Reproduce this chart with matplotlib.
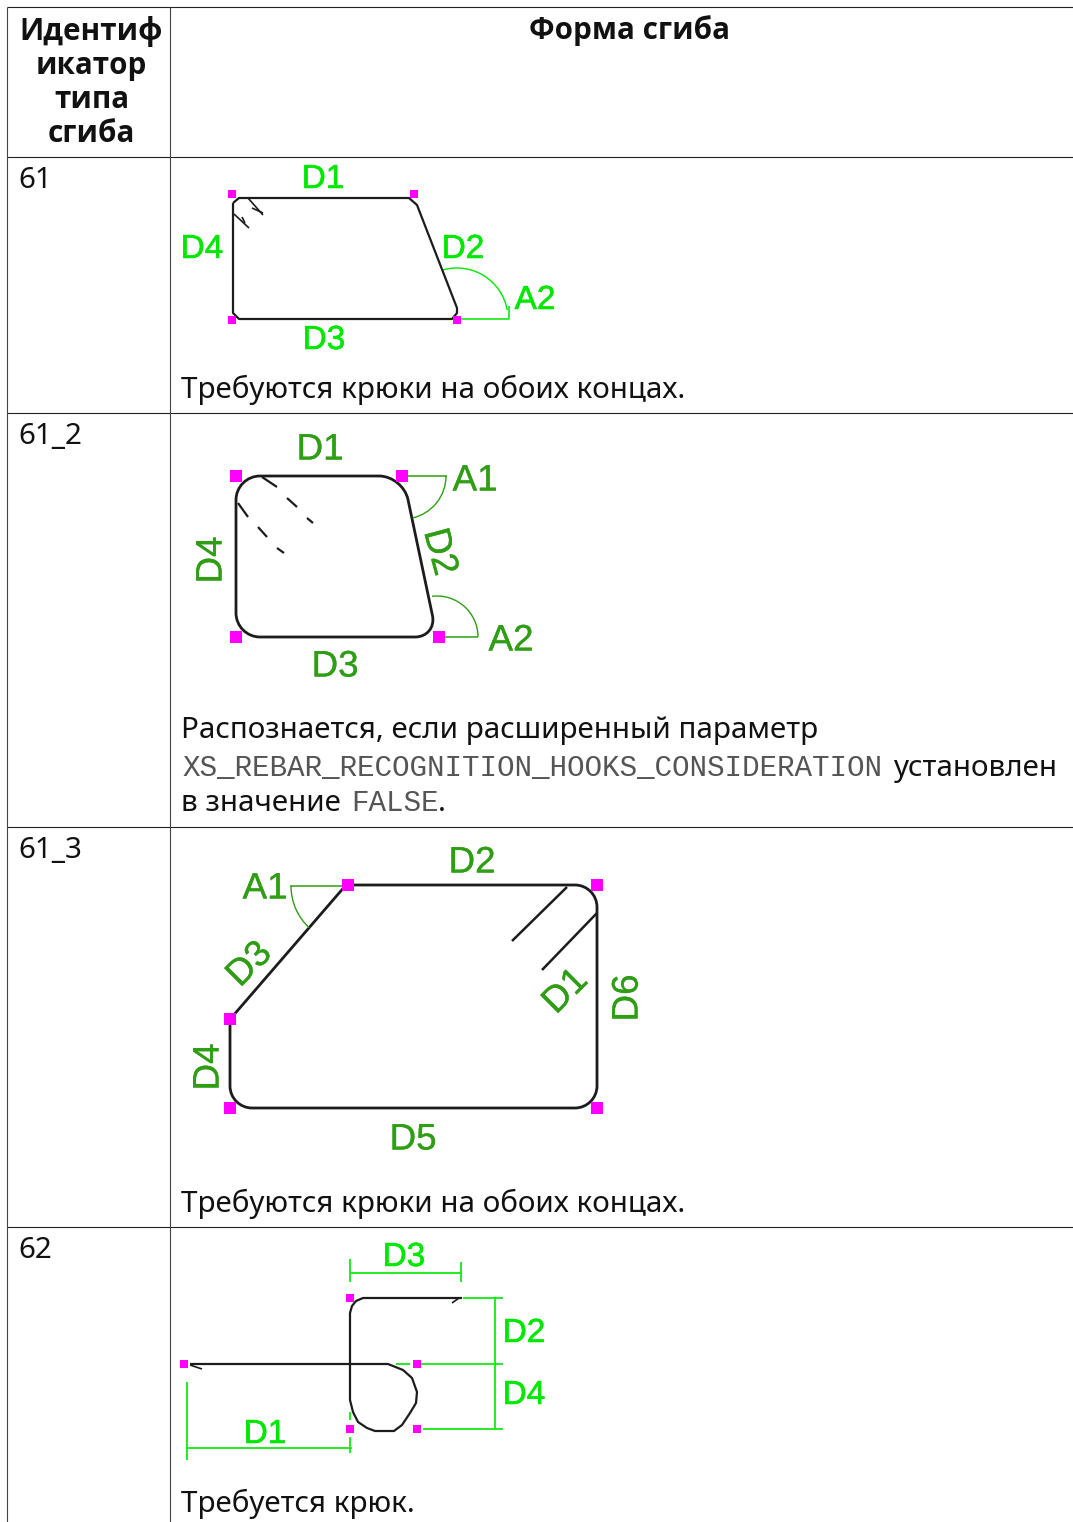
# rebar bend shape table, drawn in image pixels
import matplotlib
matplotlib.use("Agg")
import matplotlib.pyplot as plt
import matplotlib.patheffects as pe
from matplotlib.patches import Arc, PathPatch
from matplotlib.path import Path

W = 1073
H = 1522

# table grid
grid_x = [7, 170]
grid_y = [7, 157, 413, 827, 1227]

# text cells
header_left = ["Идентиф", "икатор", "типа", "сгиба"]
header_left_y = [40, 74, 108, 142]
header_right = "Форма сгиба"
row_ids = ["61", "61_2", "61_3", "62"]
row_id_y = [188, 444, 858, 1258]
notes = ["Требуются крюки на обоих концах.", "Распознается, если расширенный параметр",
         "Требуются крюки на обоих концах.", "Требуется крюк."]
notes_x = [181, 181, 181, 181]
notes_y = [398, 738, 1212, 1512]

# shape 61
s61_line = [(233, 203), (239, 198), (409, 198), (417, 205), (457, 308), (457, 313),
            (452, 319), (239, 319), (233, 313), (233, 203)]
s61_hooks = [[(248, 198), (263, 215)], [(252, 208), (263, 213)],
             [(234, 214), (249, 228)], [(242, 217), (245, 223)]]
s61_green = [[(457, 319), (509, 319), (509, 306)]]
s61_arcs = [(457, 319, 51, -107, -10)]
s61_points = [(232, 194), (414, 194), (232, 320), (457, 320)]
s61_labels = [("D1", 323, 176, 0), ("D2", 463, 246, 0), ("D3", 324, 337, 0),
              ("D4", 202, 246, 0), ("A2", 535, 297, 0)]

# shape 61_2
s612_corners = [(236, 476), (403, 476), (437, 637), (236, 637)]
s612_radius = [24, 24, 22, 24]
s612_hooks = [[(262, 477), (277, 487)], [(287, 498), (297, 507)], [(307, 518), (313, 523)],
              [(238, 503), (248, 517)], [(258, 527), (267, 537)], [(277, 548), (284, 553)]]
s612_green = [[(403, 476), (447, 476)], [(439, 637), (478, 637)]]
s612_arcs = [(403, 476, 43, 0, 77), (437, 637, 41, -97, 0)]
s612_points = [(236, 476), (402, 476), (236, 637), (439, 637)]
s612_labels = [("D1", 320, 446, 0), ("D2", 443, 551, -75), ("D3", 335, 663, 0),
               ("D4", 208, 560, 90), ("A1", 475, 477, 0), ("A2", 511, 637, 0)]

# shape 61_3
s613_corners = [(346, 885), (597, 885), (597, 1108), (230, 1108), (230, 1022), (232, 1017)]
s613_radius = [0, 22, 22, 22, 0, 0]
s613_hooks = [[(567, 887), (512, 941)], [(597, 913), (542, 970)]]
s613_green = [[(290, 886), (348, 886)]]
s613_arcs = [(348, 886, 57, 133, 180)]
s613_points = [(348, 885), (597, 885), (230, 1019), (230, 1108), (597, 1108)]
s613_labels = [("A1", 265, 885, 0), ("D2", 472, 859, 0), ("D3", 247, 962, 45),
               ("D1", 563, 989, 45), ("D6", 624, 998, 90), ("D4", 205, 1067, 90),
               ("D5", 413, 1136, 0)]

# shape 62
s62_line = [(462, 1298), (363, 1298), (356, 1301), (352, 1306), (350, 1313), (350, 1400),
            (353, 1412), (358, 1422), (367, 1428), (375, 1431), (394, 1431), (402, 1425),
            (410, 1413), (416, 1403), (417, 1392), (412, 1378), (403, 1370), (388, 1364), (190, 1364)]
s62_hooks = [[(452, 1303), (459, 1298)], [(190, 1365), (202, 1369)]]
s62_green = [[(350, 1273), (461, 1273)], [(350, 1259), (350, 1282)], [(461, 1262), (461, 1282)],
             [(463, 1298), (503, 1298)], [(495, 1297), (495, 1429)], [(396, 1364), (410, 1364)],
             [(418, 1364), (503, 1364)], [(423, 1429), (503, 1429)], [(187, 1382), (187, 1460)],
             [(186, 1448), (352, 1448)], [(350, 1412), (350, 1420)], [(350, 1437), (350, 1453)]]
s62_points = [(350, 1298), (417, 1364), (184, 1364), (350, 1429), (417, 1429)]
s62_labels = [("D3", 404, 1254, 0), ("D2", 524, 1330, 0), ("D4", 524, 1392, 0), ("D1", 265, 1431, 0)]

BRIGHT = "#00e800"
DARK = "#2f9e14"
BLACK = "#1c1c1c"
MAGENTA = "#ff00ff"
BODY = "Noto Sans"
HEAD = "Open Sans"
SIZE = 21.3
MONO = 21.1
K = 0.55


def rounded(corners, radius):
    # closed polygon with bezier corners
    verts = []
    codes = []
    n = len(corners)
    for i in range(n):
        px, py = corners[i - 1]
        cx, cy = corners[i]
        nx, ny = corners[(i + 1) % n]
        r = radius[i]
        d1 = ((px - cx) ** 2 + (py - cy) ** 2) ** 0.5
        d2 = ((nx - cx) ** 2 + (ny - cy) ** 2) ** 0.5
        a = (cx + (px - cx) * r / d1, cy + (py - cy) * r / d1)
        b = (cx + (nx - cx) * r / d2, cy + (ny - cy) * r / d2)
        verts.append(a)
        codes.append(Path.MOVETO if i == 0 else Path.LINETO)
        verts.append((a[0] + (cx - a[0]) * K, a[1] + (cy - a[1]) * K))
        verts.append((b[0] + (cx - b[0]) * K, b[1] + (cy - b[1]) * K))
        verts.append(b)
        codes += [Path.CURVE4, Path.CURVE4, Path.CURVE4]
    verts.append(verts[0])
    codes.append(Path.LINETO)
    return Path(verts, codes)


def lines(ax, groups, color, lw):
    for g in groups:
        ax.plot([p[0] for p in g], [p[1] for p in g], color=color, lw=lw,
                solid_capstyle="butt", solid_joinstyle="round")


def arcs(ax, items, color):
    for cx, cy, r, t1, t2 in items:
        ax.add_patch(Arc((cx, cy), 2 * r, 2 * r, theta1=t1, theta2=t2, color=color, lw=1.0))


def squares(ax, points, size):
    ax.scatter([p[0] for p in points], [p[1] for p in points], marker="s", s=size,
               color=MAGENTA, linewidths=0, zorder=5)


def labels(ax, items, color, size, stroke):
    for t, x, y, rot in items:
        ax.text(x, y, t, color=color, fontsize=size, family="Liberation Sans",
                ha="center", va="center_baseline", rotation=rot, rotation_mode="anchor",
                path_effects=[pe.withStroke(linewidth=stroke, foreground=color)])


fig = plt.figure(figsize=(W / 100, H / 100), dpi=100)
ax = fig.add_axes([0, 0, 1, 1])
ax.set_xlim(0, W)
ax.set_ylim(H, 0)
ax.axis("off")

# grid
for y in grid_y:
    ax.plot([grid_x[0], W], [y, y], color="#222222", lw=0.8, solid_capstyle="butt")
for x in grid_x:
    ax.plot([x, x], [grid_y[0], H], color="#444444", lw=0.8, solid_capstyle="butt")

# text
for t, y in zip(header_left, header_left_y):
    ax.text(91.5, y, t, fontsize=SIZE, family=HEAD, weight="bold", ha="center", va="baseline", color="#111111")
ax.text(629.5, 39, header_right, fontsize=SIZE, family=HEAD, weight="bold", ha="center", va="baseline", color="#111111")
for t, y in zip(row_ids, row_id_y):
    ax.text(18, y, t, fontsize=SIZE, family=BODY, va="baseline", color="#111111")
for t, x, y in zip(notes, notes_x, notes_y):
    ax.text(x, y, t, fontsize=SIZE, family=BODY, va="baseline", color="#111111")
ax.text(182, 776, "XS_REBAR_RECOGNITION_HOOKS_CONSIDERATION", fontsize=MONO,
        family="Liberation Mono", va="baseline", color="#555555")
ax.text(893, 776, "установлен", fontsize=SIZE, family=BODY, va="baseline", color="#111111")
ax.text(181, 811, "в значение", fontsize=SIZE, family=BODY, va="baseline", color="#111111")
ax.text(351, 811, "FALSE", fontsize=MONO, family="Liberation Mono", va="baseline", color="#555555")
ax.text(438, 811, ".", fontsize=SIZE, family=BODY, va="baseline", color="#111111")

# 61
lines(ax, [s61_line], BLACK, 1.6)
lines(ax, s61_hooks, BLACK, 1.2)
lines(ax, s61_green, BRIGHT, 1.1)
arcs(ax, s61_arcs, BRIGHT)
squares(ax, s61_points, 28)
labels(ax, s61_labels, BRIGHT, 24, 0.4)

# 61_2
ax.add_patch(PathPatch(rounded(s612_corners, s612_radius), fill=False, ec=BLACK, lw=2.0))
lines(ax, s612_hooks, BLACK, 1.6)
lines(ax, s612_green, DARK, 1.1)
arcs(ax, s612_arcs, DARK)
squares(ax, s612_points, 72)
labels(ax, s612_labels, DARK, 26.5, 0.2)

# 61_3
ax.add_patch(PathPatch(rounded(s613_corners, s613_radius), fill=False, ec=BLACK, lw=2.0))
lines(ax, s613_hooks, BLACK, 1.8)
lines(ax, s613_green, DARK, 1.1)
arcs(ax, s613_arcs, DARK)
squares(ax, s613_points, 72)
labels(ax, s613_labels, DARK, 26.5, 0.2)

# 62
lines(ax, [s62_line], BLACK, 1.6)
lines(ax, s62_hooks, BLACK, 1.2)
lines(ax, s62_green, BRIGHT, 1.2)
squares(ax, s62_points, 28)
labels(ax, s62_labels, BRIGHT, 24, 0.4)

fig.savefig("out.png", dpi=100)
